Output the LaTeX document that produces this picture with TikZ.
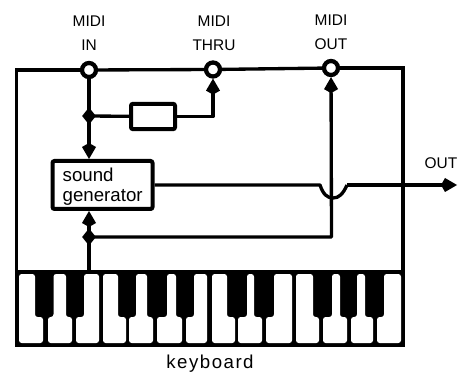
\documentclass[tikz,border=0pt]{standalone}
\usepackage{fontspec}
\setmainfont{Liberation Sans}
\newfontfamily\kbfont[LetterSpace=8]{Liberation Sans}
\usetikzlibrary{arrows.meta,shapes.geometric}
\tikzset{
  wire/.style={line width=2.5pt,line join=round},
  jack/.style={circle,draw,line width=3.2pt,fill=white,minimum size=10.5pt,inner sep=0pt},
  dot/.style={diamond,fill=black,minimum width=10.5pt,minimum height=13pt,inner sep=0pt},
  head/.style={-{Kite[length=12pt,width=10.5pt,inset=3pt]}},
  blk/.style={draw,line width=3pt,fill=white,rounded corners=1.5pt},
  caption/.style={font=\fontsize{11.6}{14}\selectfont,align=center},
  low/.style={font=\fontsize{14}{16}\selectfont},
  wkey/.style={fill=white,rounded corners=2pt}
}
\begin{document}
\begin{tikzpicture}[x=0.75pt,y=-0.75pt]
\useasboundingbox (0,0) rectangle (466,373);
% frame
\draw[wire,line join=miter] (89,70) -- (16.5,70) -- (16.5,345.5) -- (403,345.5) -- (403,68) -- (331,68);
\fill (16.5,270) rectangle (403,345.5);
\fill[wkey] (19,274) -- (35,274) -- (35,317) -- (43,317) -- (43,343) -- (19,343) -- cycle;
\fill[wkey] (53.5,274) -- (66,274) -- (66,317) -- (72,317) -- (72,343) -- (48,343) -- (48,317) -- (53.5,317) -- cycle;
\fill[wkey] (84,274) -- (99,274) -- (99,343) -- (76,343) -- (76,317) -- (84,317) -- cycle;
\fill[wkey] (103,274) -- (118,274) -- (118,317) -- (126,317) -- (126,343) -- (103,343) -- cycle;
\fill[wkey] (136,274) -- (147,274) -- (147,317) -- (153,317) -- (153,343) -- (129,343) -- (129,317) -- (136,317) -- cycle;
\fill[wkey] (167,274) -- (176,274) -- (176,317) -- (182,317) -- (182,343) -- (157,343) -- (157,317) -- (167,317) -- cycle;
\fill[wkey] (194,274) -- (207,274) -- (207,343) -- (186,343) -- (186,317) -- (194,317) -- cycle;
\fill[wkey] (212,274) -- (227,274) -- (227,317) -- (235,317) -- (235,343) -- (212,343) -- cycle;
\fill[wkey] (247,274) -- (254,274) -- (254,317) -- (262,317) -- (262,343) -- (238,343) -- (238,317) -- (247,317) -- cycle;
\fill[wkey] (274,274) -- (292,274) -- (292,343) -- (266,343) -- (266,317) -- (274,317) -- cycle;
\fill[wkey] (296,274) -- (313,274) -- (313,317) -- (319,317) -- (319,343) -- (296,343) -- cycle;
\fill[wkey] (332,274) -- (340,274) -- (340,317) -- (347,317) -- (347,343) -- (323,343) -- (323,317) -- (332,317) -- cycle;
\fill[wkey] (357,274) -- (365,274) -- (365,317) -- (373,317) -- (373,343) -- (351,343) -- (351,317) -- (357,317) -- cycle;
\fill[wkey] (384,274) -- (401,274) -- (401,343) -- (377,343) -- (377,317) -- (384,317) -- cycle;
% named parts
\node[jack] (in) at (89,70) {};
\node[jack] (thru) at (213,69.5) {};
\node[jack] (mout) at (331,68) {};
\node[blk,minimum width=33pt,minimum height=19pt,inner sep=0pt] (res) at (153,116.5) {};
\node[blk,minimum width=75pt,minimum height=36pt,inner sep=0pt] (gen) at (102.5,185) {};
\node[low,anchor=west] (gt1) at (58,175) {sound};
\node[low,anchor=west] (gt2) at (58,197) {generator};
\coordinate (j1) at (89,116);
\coordinate (j2) at (89,237);
\coordinate (kb) at (89,272);
\coordinate (c1) at (331.5,237);
\coordinate (b1) at (320,185);
\coordinate (b2) at (347,185);
\coordinate (tipout) at (457,185);
\coordinate (genb) at (in |- gen.south);
\coordinate (gent) at (in |- gen.north);
\coordinate (rr) at (thru |- res.east);
% connectors
\draw[wire] (in) -- (thru);
\draw[wire] (thru) -- (mout);
\draw[wire,head] (in) -- (gent);
\draw[wire] (j1) -- (res);
\draw[wire,head] (res.east) -- (rr) -- (thru);
\draw[wire,head] (kb) -- (genb);
\draw[wire,head] (j2) -- (c1) -- (mout);
\draw[wire] (gen.east) -- (b1) .. controls (323,194) and (327,198) .. (333,198) .. controls (339,198) and (343,194) .. (b2);
\draw[wire,head] (b2) -- (tipout);
\node[dot] (dj1) at (j1) {};
\node[dot] (dj2) at (j2) {};
% labels
\node[caption] (lin) at (89,33) {MIDI\\[4pt]IN};
\node[caption] (lthru) at (214,33) {MIDI\\[4pt]THRU};
\node[caption] (lout) at (331,32) {MIDI\\[4pt]OUT};
\node[caption] (lo) at (441,163) {OUT};
\node[low] (lk) at (210,364) {\kbfont keyboard};
\end{tikzpicture}
\end{document}
